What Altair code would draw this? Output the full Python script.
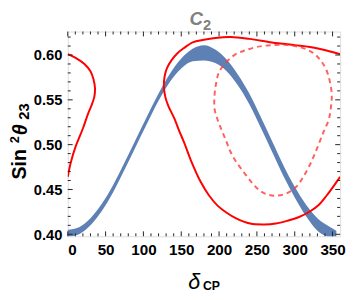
import altair as alt
import pandas as pd

# ---- data ----
band_d = [0, 15, 30, 45, 60, 75, 90, 105, 120, 135, 150, 165, 180, 195, 210, 225, 240, 255, 270, 285, 300, 315, 330, 345, 355]
band_lo = [0.397, 0.400, 0.410, 0.426, 0.447, 0.472, 0.498, 0.524, 0.549, 0.570, 0.585, 0.593, 0.594, 0.591, 0.582, 0.566, 0.545, 0.519, 0.492, 0.465, 0.441, 0.420, 0.404, 0.397, 0.395]
band_hi = [0.405, 0.408, 0.418, 0.434, 0.455, 0.480, 0.506, 0.532, 0.557, 0.579, 0.596, 0.607, 0.611, 0.606, 0.595, 0.578, 0.557, 0.531, 0.504, 0.477, 0.453, 0.433, 0.418, 0.409, 0.404]

left_d = [0, 12, 22, 30, 34, 36, 35, 31, 27, 20, 10, 4, 0]
left_v = [0.601, 0.596, 0.590, 0.582, 0.573, 0.563, 0.553, 0.543, 0.535, 0.518, 0.497, 0.480, 0.464]

right_d = [360, 342, 320, 300, 270, 240, 215, 195, 180, 165, 154, 145, 137, 131, 128, 127, 129, 133, 141, 147, 154, 163, 176, 187, 198, 210, 222, 241, 260, 275, 290, 305, 321, 332, 342, 350, 360]
right_v = [0.601, 0.605, 0.609, 0.611, 0.614, 0.618, 0.620, 0.619, 0.617, 0.614, 0.608, 0.602, 0.594, 0.585, 0.576, 0.565, 0.553, 0.543, 0.529, 0.516, 0.502, 0.482, 0.458, 0.443, 0.432, 0.424, 0.418, 0.412, 0.411, 0.412, 0.415, 0.419, 0.426, 0.433, 0.443, 0.452, 0.464]

dash_d = [209, 222, 234, 250, 270, 291, 310, 325, 335, 342, 347, 349, 348, 345, 338, 330, 322, 312, 302, 290, 275, 262, 252, 243, 232, 221, 214, 209, 203, 198, 194, 194, 196, 200, 209]
dash_v = [0.592, 0.601, 0.605, 0.609, 0.611, 0.611, 0.608, 0.602, 0.593, 0.583, 0.568, 0.555, 0.543, 0.528, 0.514, 0.497, 0.481, 0.465, 0.453, 0.446, 0.443, 0.445, 0.450, 0.458, 0.470, 0.483, 0.494, 0.505, 0.517, 0.528, 0.540, 0.555, 0.568, 0.581, 0.592]

x_major = [0, 50, 100, 150, 200, 250, 300, 350]
x_minor = [10, 20, 30, 40, 60, 70, 80, 90, 110, 120, 130, 140, 160, 170, 180, 190, 210, 220, 230, 240, 260, 270, 280, 290, 310, 320, 330, 340]
y_major = [0.40, 0.45, 0.50, 0.55, 0.60]
y_minor = [0.41, 0.42, 0.43, 0.44, 0.46, 0.47, 0.48, 0.49, 0.51, 0.52, 0.53, 0.54, 0.56, 0.57, 0.58, 0.59, 0.61, 0.62]

W, H = 278, 209
FONT = "Liberation Sans"

xs = alt.Scale(domain=[0, 360], nice=False, zero=False)
ys = alt.Scale(domain=[0.3978, 0.6262], nice=False, zero=False)

band = pd.DataFrame({"d": band_d, "lo": band_lo, "hi": band_hi})
solid = pd.concat([
    pd.DataFrame({"d": left_d, "v": left_v, "piece": "a", "o": list(range(len(left_d)))}),
    pd.DataFrame({"d": right_d, "v": right_v, "piece": "b", "o": list(range(len(right_d)))}),
])
dashed = pd.DataFrame({"d": dash_d, "v": dash_v, "o": list(range(len(dash_d)))})

xaxis = alt.Axis(values=x_major, title=None, ticks=False, domain=False, grid=False,
                 labelFont=FONT, labelFontSize=15.5, labelFontWeight="bold", labelColor="black",
                 labelPadding=7, labelOverlap=False)
yaxis = alt.Axis(values=y_major, format=".2f", title=None, ticks=False, domain=False, grid=False,
                 labelFont=FONT, labelFontSize=15, labelFontWeight="bold", labelColor="black",
                 labelPadding=6, labelOverlap=False)

X = lambda f: alt.X(f, scale=xs, axis=xaxis)
Y = lambda f: alt.Y(f, scale=ys, axis=yaxis)

area = alt.Chart(band).mark_area(color="#5E81B5", interpolate="monotone", clip=True).encode(
    x=X("d:Q"), y=Y("lo:Q"), y2="hi:Q",
)

red = alt.Chart(solid).mark_line(color="#ff0000", strokeWidth=2, interpolate="catmull-rom", clip=True).encode(
    x=X("d:Q"), y=Y("v:Q"), detail="piece:N", order="o:Q"
)

red_dash = alt.Chart(dashed).mark_line(color="#ff3a3a", opacity=0.8, strokeWidth=2, strokeDash=[5, 4],
                                       interpolate="catmull-rom", clip=True).encode(
    x=X("d:Q"), y=Y("v:Q"), order="o:Q"
)

def xticks(vals, ln):
    df = pd.DataFrame({"t": vals})
    bot = alt.Chart(df).mark_rule(color="#222", strokeWidth=1).encode(
        x=X("t:Q"), y=alt.value(H), y2=alt.value(H - ln))
    top = alt.Chart(df).mark_rule(color="#222", strokeWidth=1).encode(
        x=X("t:Q"), y=alt.value(0), y2=alt.value(ln))
    return [bot, top]

def yticks(vals, ln):
    df = pd.DataFrame({"t": vals})
    lft = alt.Chart(df).mark_rule(color="#222", strokeWidth=1).encode(
        y=Y("t:Q"), x=alt.value(0), x2=alt.value(ln))
    rgt = alt.Chart(df).mark_rule(color="#222", strokeWidth=1).encode(
        y=Y("t:Q"), x=alt.value(W), x2=alt.value(W - ln))
    return [lft, rgt]

one = pd.DataFrame({"k": [0]})

def label(text, x, y, size, style="normal", weight="normal", color="black", align="left", angle=0):
    return alt.Chart(one).mark_text(text=text, font=FONT, fontSize=size, fontStyle=style, fontWeight=weight,
                                    align=align, baseline="alphabetic", color=color, angle=angle).encode(
        x=alt.value(x), y=alt.value(y))

texts = [
    # x-axis title  δ_CP
    label("δ", 129, 263, 22, style="italic", align="center"),
    label("CP", 138, 264, 12.5, weight="bold"),
    # panel title  C_2
    label("C", 131, -7, 19, style="italic", weight="bold", color="#808080", align="center"),
    label("2", 138, -2, 15, weight="bold", color="#808080"),
    # y-axis title  Sin^2 θ_23 (rotated)
    label("Sin", -43, 151, 20, weight="bold", angle=270),
    label("2", -50, 114, 13, weight="bold", angle=270),
    label("θ", -42, 106, 20, weight="bold", style="italic", angle=270),
    label("23", -40, 90, 15, weight="bold", angle=270),
]

layers = [area, red, red_dash] + xticks(x_major, 5) + xticks(x_minor, 3) + yticks(y_major, 5) + yticks(y_minor, 3) + texts

chart = alt.layer(*layers).properties(
    width=W, height=H,
    padding={"left": 61, "top": 21, "right": 6, "bottom": 60},
    autosize=alt.AutoSizeParams(type="none"),
).configure_view(stroke="black", strokeWidth=1).configure(background="white")

chart.save("out.html", embed_options={"renderer": "svg", "actions": False})
